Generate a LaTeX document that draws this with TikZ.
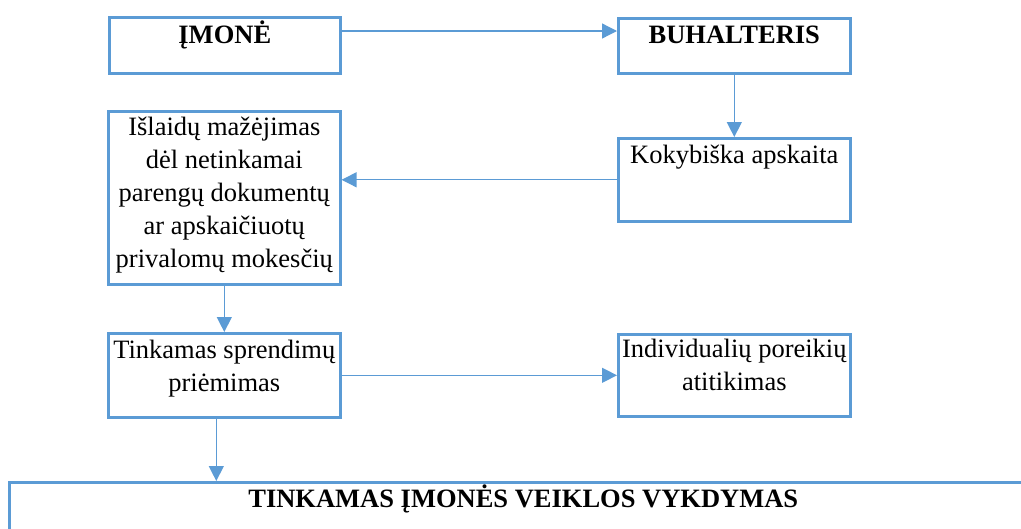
\documentclass[tikz,border=0pt]{standalone}
\usepackage{fontspec}
\setmainfont{Liberation Serif}
\usetikzlibrary{arrows.meta}
\definecolor{frameblue}{HTML}{5B9BD5}
\tikzset{
  box/.style={draw=frameblue, line width=2.6pt, fill=white, inner sep=0pt, anchor=north west},
  txt/.style={anchor=base, inner sep=0pt, font=\fontsize{26.5}{33}\selectfont},
  conn/.style={draw=frameblue, line width=1.3pt, -{Triangle[length=15pt,width=15pt]}},
}
\newcommand{\lines}[1]{\begin{tabular}[t]{@{}c@{}}#1\end{tabular}}
\begin{document}
\begin{tikzpicture}[x=1pt,y=-1pt]
  \clip (0,0) rectangle (1021,528);
  % boxes (top-left corner, size)
  \node[box, minimum width=231pt, minimum height=56pt]  (imone) at (108,16)  {};
  \node[box, minimum width=232pt, minimum height=55pt]  (buh)   at (617,17)  {};
  \node[box, minimum width=232pt, minimum height=83pt]  (kok)   at (617,137) {};
  \node[box, minimum width=232pt, minimum height=173pt] (isl)   at (107,110) {};
  \node[box, minimum width=232pt, minimum height=84pt]  (tink)  at (107,332) {};
  \node[box, minimum width=232pt, minimum height=82pt]  (indiv) at (617,333) {};
  \node[box, minimum width=1028pt, minimum height=90pt] (final) at (8,481)   {};

  % texts, first baseline about 26pt below each box top
  \node[txt] (timone) at ([yshift=-27pt]imone.north) {\textbf{ĮMONĖ}};
  \node[txt] (tbuh)   at ([yshift=-26pt]buh.north)   {\textbf{BUHALTERIS}};
  \node[txt] (tkok)   at ([yshift=-26pt]kok.north)   {Kokybiška apskaita};
  \node[txt] (tisl)   at ([yshift=-25pt]isl.north)
    {\lines{Išlaidų mažėjimas\\dėl netinkamai\\parengų dokumentų\\ar apskaičiuotų\\privalomų mokesčių}};
  \node[txt] (ttink)  at ([yshift=-26pt]tink.north)  {\lines{Tinkamas sprendimų\\priėmimas}};
  \node[txt] (tindiv) at ([yshift=-24pt]indiv.north) {\lines{Individualių poreikių\\atitikimas}};
  \node[txt] (tfinal) at ([yshift=-26pt]final.north) {\textbf{TINKAMAS ĮMONĖS VEIKLOS VYKDYMAS}};

  % connectors
  \coordinate (a1) at ([yshift=-15pt]imone.north east);
  \draw[conn] (a1) -- (a1 -| buh.west);
  \draw[conn] (buh.south) -- (kok.north);
  \draw[conn] (kok.west) -- (kok.west -| isl.east);
  \draw[conn] (isl.south) -- (tink.north);
  \draw[conn] (tink.east) -- (indiv.west);
  \coordinate (a2) at ([xshift=-8pt]tink.south);
  \draw[conn] (a2) -- (a2 |- final.north);
\end{tikzpicture}
\end{document}
